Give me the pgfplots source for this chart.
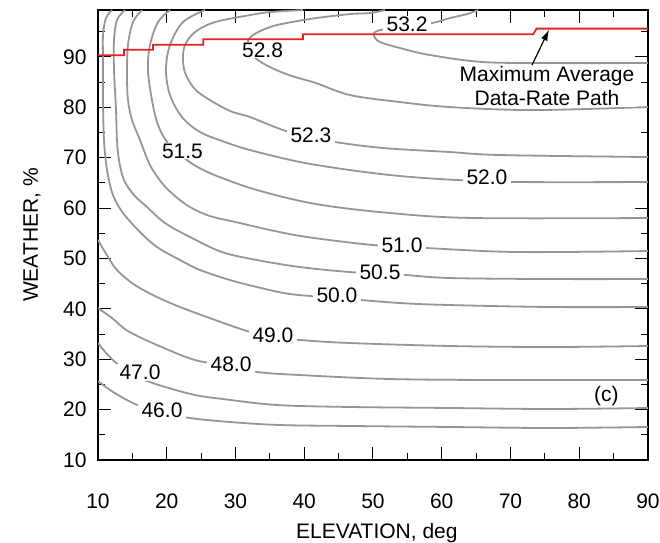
\documentclass[border=0pt]{standalone}
\usepackage{fontspec}
\setmainfont{Liberation Sans}
\usepackage{pgfplots}
\pgfplotsset{compat=1.18}
\usetikzlibrary{arrows.meta}
\definecolor{contourgray}{RGB}{150,150,150}
\definecolor{pathred}{RGB}{228,35,32}
\newcommand{\fs}{\fontsize{21bp}{24bp}\selectfont}
\tikzset{
    cline/.style={contourgray, line width=1.8bp, smooth, tension=0.55},
    clab/.style={fill=white, inner xsep=4bp, inner ysep=1bp, font=\fs},
}

\begin{document}
\begin{tikzpicture}
\useasboundingbox (-98bp,-83bp) rectangle (562bp,460bp);
\begin{axis}[
    scale only axis, width=550bp, height=450bp,
    xmin=10, xmax=90, ymin=10, ymax=99.3,
    xtick={10,20,...,90}, ytick={10,20,...,90},
    minor xtick={15,25,...,85}, minor ytick={15,25,...,95},
    tick align=inside,
    major tick length=13bp, minor tick length=7bp,
    tick style={black, line width=1bp},
    axis line style={line width=1.2bp},
    tick label style={font=\fs},
    /pgf/number format/assume math mode=true,
    xticklabel shift=30bp, yticklabel shift=8bp,
    xlabel={ELEVATION, deg}, ylabel={WEATHER, \%},
    every axis x label/.style={at={(axis description cs:0.507,-0.163)}, anchor=center, font=\fs},
    every axis y label/.style={at={(axis description cs:-0.12,0.5)}, anchor=center, rotate=90, font=\fs},
]
% contour lines
\addplot[cline] coordinates {(10,25.67) (11.75,23.89) (13.93,22.10) (16.11,20.71) (19.02,19.52) (23.38,18.33) (29.2,17.54) (36.47,16.94) (46.65,16.75) (61.2,16.55) (75.75,16.35) (90,16.55)};
\addplot[cline] coordinates {(10,33.21) (11.45,30.83) (13.2,28.65) (16.11,26.27) (19.31,24.68) (24.11,22.90) (28.18,22.10) (36.04,20.91) (46.65,20.52) (61.2,20.32) (75.75,20.12) (90,20.32)};
\addplot[cline] coordinates {(10,40.16) (12.04,38.17) (14.36,35.59) (18.58,32.82) (24.11,29.84) (29.35,28.65) (33.13,27.46) (39.38,26.86) (52.47,26.07) (68.47,25.87) (90,25.87)};
\addplot[cline] coordinates {(10,53.65) (11.02,51.27) (12.76,47.70) (15.38,44.72) (18.58,42.34) (21.93,40.36) (25.85,38.37) (31.67,35.59) (35.45,34.40) (39.38,33.81) (46.65,33.21) (61.2,32.62) (75.75,32.42) (90,32.62)};
\addplot[cline] coordinates {(12.04,99.29) (11.16,97.70) (10.73,94.33) (10.73,89.37) (10.73,81.43) (10.87,73.49) (11.31,67.54) (12.18,62.58) (13.64,59.01) (16.11,55.24) (18.58,52.26) (21.93,49.68) (24.84,47.70) (29.2,45.71) (33.13,44.33) (37.93,42.94) (44.76,42.14) (53.93,41.15) (61.2,40.75) (75.75,40.36) (90,40.36)};
\addplot[cline] coordinates {(13.93,99.29) (12.76,97.30) (12.33,93.33) (12.33,87.38) (12.62,79.44) (12.76,73.49) (13.05,69.52) (13.78,65.56) (15.24,62.58) (17.13,60.20) (19.75,57.02) (23.38,54.25) (28.04,51.27) (33.13,49.68) (39.38,48.29) (46.65,47.30) (54.65,46.71) (61.2,46.11) (75.75,45.91) (90,45.91)};
\addplot[cline] coordinates {(16.4,99.29) (15.09,96.90) (14.36,92.34) (14.22,86.39) (14.36,81.43) (14.95,77.46) (16.11,73.49) (17.56,68.53) (19.31,64.96) (21.2,62.38) (23.38,60.20) (26.29,58.41) (30.65,57.02) (35.02,55.64) (40.4,54.25) (50,52.66) (57.85,52.06) (70.95,51.27) (90,51.47)};
\addplot[cline] coordinates {(20.47,99.29) (18.73,96.90) (17.56,92.34) (17.27,87.38) (17.85,81.43) (18.73,76.47) (20.2,72.8) (22.2,70.3) (24.25,68.33) (27.31,66.35) (33.13,63.57) (41.71,60.79) (52.47,59.01) (64.55,58.02) (90,58.02)};
\addplot[cline] coordinates {(25.56,99.29) (22.36,96.90) (20.47,92.34) (19.89,87.38) (20.47,82.42) (22.22,78.06) (24.84,75.08) (28.47,73.10) (32.11,71.51) (39.38,69.13) (46.65,67.54) (53.93,66.35) (62.22,65.56) (71.38,65.16) (90,65.16)};
\addplot[cline] coordinates {(39.82,99.29) (35.02,98.89) (32.11,98.29) (27.02,96.90) (24.11,94.92) (22.65,92.34) (22.36,89.37) (22.8,86.39) (24.55,83.02) (28.91,79.44) (32.11,78.06) (36.91,75.48) (40.98,74.09) (44.47,73.10) (51.45,71.91) (61.2,71.11) (68.47,70.52) (90,70.12)};
\addplot[cline] coordinates {(51.75,99.29) (49.56,98.69) (46.65,98.49) (41.71,97.70) (39.82,97.30) (35.45,96.11) (32.55,94.33) (31.7,92.6) (32.4,90.4) (34.44,88.37) (37.78,86.39) (41.71,84.80) (46.65,82.42) (53.93,81.03) (61.2,80.04) (73.27,79.44) (90,80.04)};
\addplot[cline] coordinates {(65.27,99.29) (63.67,98.49) (61.2,97.70) (58.58,96.71) (54.95,96.11) (51.75,95.52) (50.29,94.92) (50.15,94.13) (51.02,92.94) (53.93,91.75) (58.29,90.36) (66,88.97) (75.75,88.77) (90,88.77)};
% contour labels
\node[clab] at (axis cs:54.95,96.41) {53.2};
\node[clab] at (axis cs:33.93,91.35) {52.8};
\node[clab] at (axis cs:40.98,74.38) {52.3};
\node[clab] at (axis cs:22.29,71.31) {51.5};
\node[clab] at (axis cs:66.58,66.05) {52.0};
\node[clab] at (axis cs:54.22,52.56) {51.0};
\node[clab] at (axis cs:51.02,47.20) {50.5};
\node[clab] at (axis cs:44.76,42.64) {50.0};
\node[clab] at (axis cs:35.45,34.70) {49.0};
\node[clab] at (axis cs:29.35,28.95) {48.0};
\node[clab] at (axis cs:16.11,27.36) {47.0};
\node[clab] at (axis cs:19.31,19.92) {46.0};
% maximum average data-rate path
\addplot[pathred, line width=1.8bp] coordinates {(10,90.3) (13.8,90.3) (13.8,91.4) (18.0,91.4) (18.0,92.4) (25.3,92.4) (25.3,93.5) (39.8,93.5) (39.8,94.5) (73.3,94.5) (73.8,95.6) (90,95.6)};
\node[fill=white, inner sep=1bp, align=center, font=\fs] at (axis cs:75.31,84.21) {Maximum Average\\Data-Rate Path};
\draw[-{Latex[length=11bp,width=7bp]}, line width=1.2bp] (axis cs:73.13,88.37) -- (axis cs:75.6,95.4);
\node[font=\fs] at (axis cs:83.96,22.6) {(c)};
\end{axis}
\end{tikzpicture}
\end{document}
